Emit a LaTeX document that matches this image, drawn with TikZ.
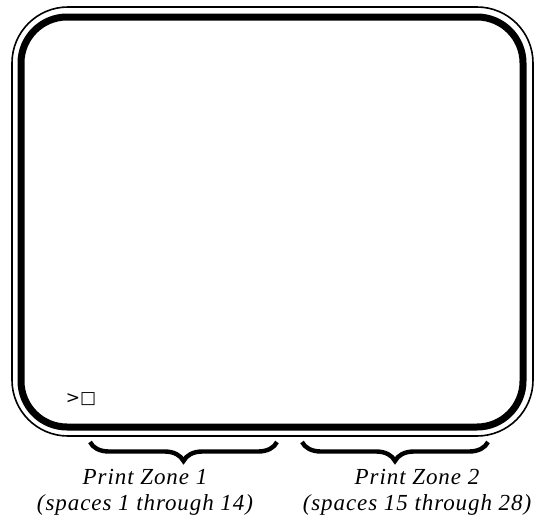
\documentclass[tikz,border=0pt]{standalone}
\usepackage{fontspec}
\usepackage{tikz}
\usetikzlibrary{decorations.pathreplacing}
\newfontfamily\zonefont{Liberation Serif}[LetterSpace=4, ItalicFont={Liberation Serif Italic}]
\newfontfamily\termfont{DejaVu Sans}
\tikzset{
  screen/.style={draw=black, line width=3.5pt, rounded corners=23pt},
  bezel/.style={draw=black, line width=0.8pt, rounded corners=28pt},
  zonebrace/.style={decorate, decoration={brace, mirror, amplitude=9.5pt},
                    line width=2.2pt},
  zonelbl/.style={align=center, font=\zonefont\itshape\fontsize{11.5}{13}\selectfont},
  prompt/.style={font=\termfont\fontsize{8.5}{9}\selectfont, inner sep=0pt},
}
\begin{document}
\begin{tikzpicture}[x=0.5pt, y=-0.5pt]
    \useasboundingbox (0,0) rectangle (546,525);
    % monitor outline
    \draw[bezel] (12,7) rectangle (533,436);
    \draw[screen] (21,17) rectangle (523,427);
    \node[prompt] (cursor) at (81,399) {>□};
    % print zones
    \coordinate (z1a) at (90,442); \coordinate (z1b) at (277,442);
    \coordinate (z2a) at (302,442); \coordinate (z2b) at (488,442);
    \draw[zonebrace] (z1a) -- (z1b);
    \draw[zonebrace] (z2a) -- (z2b);
    \node[zonelbl] (zone1) at (145,492) {Print Zone 1\\(spaces 1 through 14)};
    \node[zonelbl] (zone2) at (417,492) {Print Zone 2\\(spaces 15 through 28)};
  \end{tikzpicture}
\end{document}
